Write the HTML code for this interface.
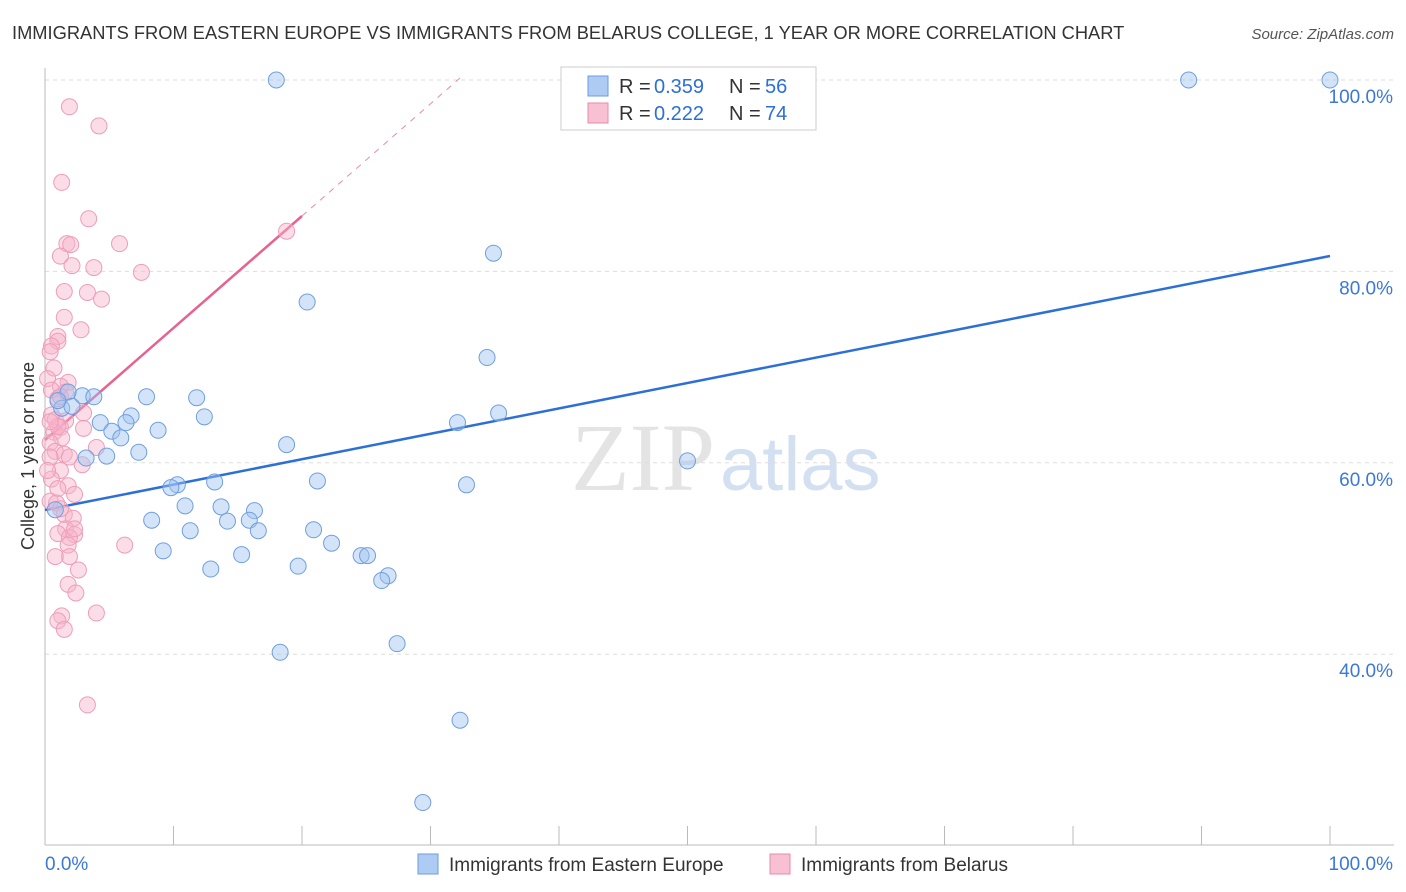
<!DOCTYPE html>
<html><head><meta charset="utf-8">
<style>
body{margin:0;background:#fff;font-family:"Liberation Sans",sans-serif;}
#wrap{position:relative;width:1406px;height:892px;overflow:hidden;}
</style></head>
<body>
<div id="wrap">
<svg id="chart" width="1406" height="892" xmlns="http://www.w3.org/2000/svg">
<text x="12" y="39" font-size="18.3" fill="#333">IMMIGRANTS FROM EASTERN EUROPE VS IMMIGRANTS FROM BELARUS COLLEGE, 1 YEAR OR MORE CORRELATION CHART</text>
<text x="1394" y="39" font-size="15" fill="#555" font-style="italic" text-anchor="end">Source: ZipAtlas.com</text>
<text x="715" y="490" font-size="96" fill="#e4e4e4" text-anchor="end" font-family="Liberation Serif,serif">ZIP</text>
<text x="720" y="490" font-size="76" fill="#d3e0f2">atlas</text>
<text transform="translate(34,456) rotate(-90)" font-size="18" fill="#333" text-anchor="middle">College, 1 year or more</text>
<g id="grid"></g><g id="axes"></g><g id="lines"></g><g id="pts"></g>
<g>
<rect x="561" y="67" width="255" height="63" fill="#fff" stroke="#ccc"/>
<rect x="588" y="76" width="20" height="20" fill="#aecbf3" stroke="#6b9be0"/>
<rect x="588" y="103" width="20" height="20" fill="#f7c1d3" stroke="#e88aa9"/>
<text y="93" font-size="20" fill="#333"><tspan x="619">R =</tspan><tspan x="654" fill="#2c6fd6">0.359</tspan><tspan x="729">N =</tspan><tspan x="765" fill="#2c6fd6">56</tspan></text>
<text y="120" font-size="20" fill="#333"><tspan x="619">R =</tspan><tspan x="654" fill="#2c6fd6">0.222</tspan><tspan x="729">N =</tspan><tspan x="765" fill="#2c6fd6">74</tspan></text>
</g>
<g>
<rect x="418" y="854" width="20" height="20" fill="#aecbf3" stroke="#6b9be0"/>
<text x="449" y="871" font-size="19" fill="#333">Immigrants from Eastern Europe</text>
<rect x="770" y="854" width="20" height="20" fill="#f7c1d3" stroke="#e88aa9"/>
<text x="801" y="871" font-size="19" fill="#333">Immigrants from Belarus</text>
</g>
<text x="45" y="870" font-size="19" fill="#3b78d8">0.0%</text>
<text x="1393" y="870" font-size="19" fill="#3b78d8" text-anchor="end">100.0%</text>
</svg>
</div>
<script>
const yTicks=[100,80,60,40];
const blueX=[18,89,100,34.9,20.4,34.4,7.9,11.8,2.9,3.8,1.8,1.3,2.1,6.7,12.4,4.3,6.3,32.1,35.3,8.8,5.2,5.9,18.8,7.3,4.8,3.2,50,10.3,9.8,13.2,21.2,32.8,10.9,13.7,16.3,8.3,14.2,15.9,16.6,20.9,11.3,22.3,9.2,15.3,24.6,25.1,12.9,19.7,26.7,26.2,18.3,27.4,32.3,29.4,0.8,1];
const blueY=[100,100,100,81.9,76.8,71,66.9,66.8,67,66.9,67.4,65.7,65.9,64.9,64.8,64.2,64.2,64.2,65.2,63.4,63.3,62.6,61.9,61.1,60.7,60.5,60.2,57.7,57.4,58,58.1,57.7,55.5,55.4,55,54,53.9,54,52.9,53,52.9,51.6,50.8,50.4,50.3,50.3,48.9,49.2,48.2,47.7,40.2,41.1,33.1,24.5,55.1,66.5];
const pinkX=[1.9,4.2,1.3,3.4,18.8,1.7,2,5.8,1.2,2.1,3.8,7.5,1.5,3.3,4.4,1.5,2.8,1,1,0.5,0.4,0.7,0.2,1.8,1.2,0.5,1.6,1,3,0.5,0.8,1.6,1.2,0.7,3,1.3,0.4,4,0.8,1.5,0.4,2.9,1.2,0.5,1.8,1,2.3,0.4,0.9,1.5,2.2,1.6,1,2.3,1.9,1.8,6.2,1.9,2.6,1.8,2.4,1.3,1,4,1.5,3.3,1,0.2,0.8,1.2,0.4,1.9,2.3,1.2];
const pinkY=[97.2,95.2,89.3,85.5,84.2,82.9,82.8,82.9,81.6,80.6,80.4,79.9,77.9,77.8,77.1,75.2,73.9,73.2,72.7,72.2,71.6,69.9,68.8,68.4,68,67.6,67.4,66.7,65.2,65,64.5,64.4,63.7,63.2,63.6,62.6,62.1,61.6,61.2,60.9,60.6,59.8,59.2,58.3,57.6,57.3,56.7,56,55.8,54.6,54.2,53.1,52.6,52.5,52.2,51.4,51.4,50.2,48.8,47.3,46.4,44,43.5,44.3,42.6,34.7,63.8,59.2,50.2,66.9,64.3,60.6,53.1,55.2];
const X=v=>45+v*12.85, Y=v=>80+(100-v)*9.57;
const ns='http://www.w3.org/2000/svg';
function mk(parent,tag,attrs){const e=document.createElementNS(ns,tag);for(const k in attrs)e.setAttribute(k,attrs[k]);document.getElementById(parent).appendChild(e);return e;}
yTicks.forEach(t=>{
 const l=mk('grid','line',{x1:45,x2:1394,y1:Y(t),y2:Y(t),stroke:'#ddd','stroke-dasharray':'4,4'});
 
 
 const tx=mk('grid','text',{x:1393,y:Y(t)+23,'font-size':19,fill:'#3b78d8','text-anchor':'end'});
 tx.textContent=t.toFixed(1)+'%';
 
 
});
const ax=mk('axes','line',{x1:45,x2:1394,y1:845,y2:845,stroke:'#bbb'});


const ay=mk('axes','line',{x1:45,x2:45,y1:68,y2:845,stroke:'#bbb'});


for(let i=0;i<=10;i++){const t=mk('axes','line',{x1:X(i*10),x2:X(i*10),y1:826,y2:845,stroke:'#bbb'});
 
 }
const bl=mk('lines','line',{x1:X(0),y1:510,x2:X(100),y2:256,stroke:'#2c6fd6','stroke-width':2.5});


const pd=mk('lines','line',{x1:X(20),y1:216,x2:460,y2:78,stroke:'#e88aa9','stroke-width':1,'stroke-dasharray':'6,6'});


const pl=mk('lines','line',{x1:X(0),y1:440,x2:X(20),y2:216,stroke:'#e8628f','stroke-width':2.5});


pinkX.forEach((v,i)=>{const c=mk('pts','circle',{cx:X(v),cy:Y(pinkY[i]),r:8,fill:'rgba(247,180,202,0.45)',stroke:'#ee9db8','stroke-width':1});
 
 });
blueX.forEach((v,i)=>{const c=mk('pts','circle',{cx:X(v),cy:Y(blueY[i]),r:8,fill:'rgba(160,195,240,0.45)',stroke:'#6f9fe0','stroke-width':1});
 
 });
</script>
</body></html>
